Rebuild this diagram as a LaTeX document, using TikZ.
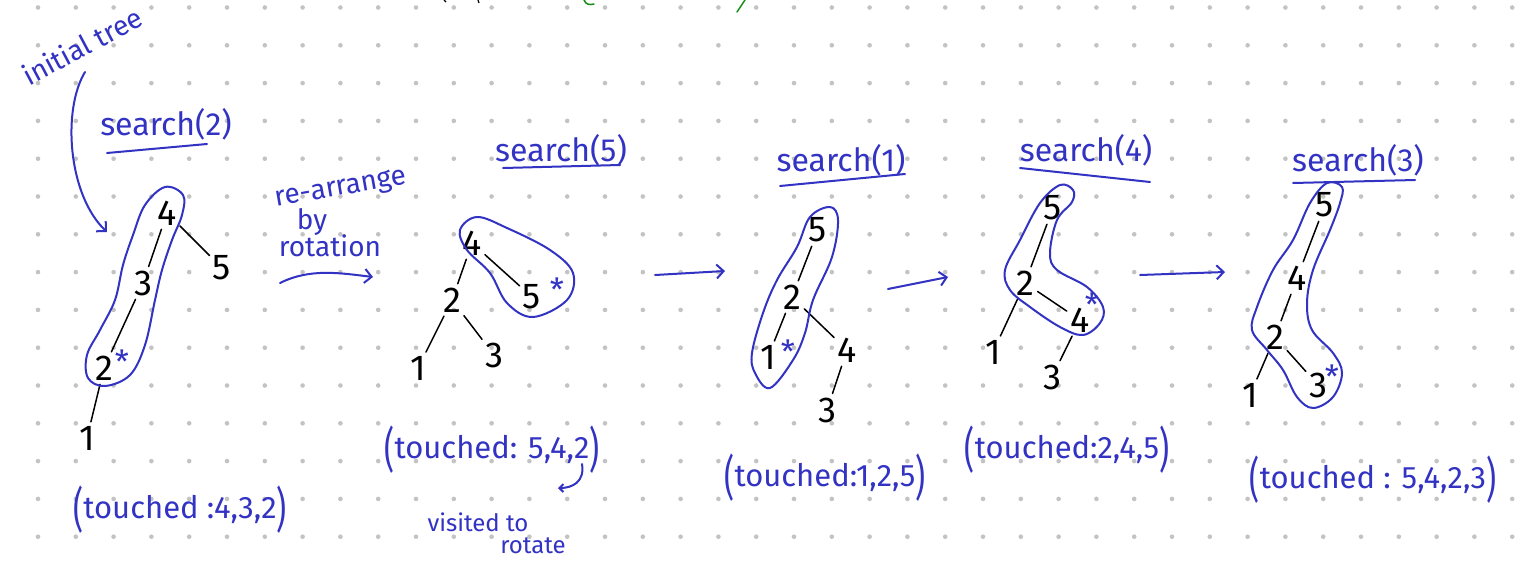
\documentclass[tikz,border=0pt]{standalone}
\usepackage{fontspec}
\setmainfont{Fira Sans}
\usetikzlibrary{arrows.meta}
\definecolor{pen}{RGB}{50,50,195}
\definecolor{dotc}{RGB}{195,195,195}
\definecolor{grn}{RGB}{20,140,20}
\newcommand{\lpar}{\raisebox{-0.28em}{\scalebox{1}[1.55]{(}}}
\newcommand{\rpar}{\raisebox{-0.28em}{\scalebox{1}[1.55]{)}}}
\begin{document}
\begin{tikzpicture}[x=1pt,y=-1pt,
  dig/.style={font=\fontsize{36}{36}\selectfont, inner sep=1pt, text=black},
  tedge/.style={line width=1.5pt, draw=black, shorten <=3pt, shorten >=3pt, line cap=round},
  lbl/.style={text=pen, font=\fontsize{28}{28}\selectfont, inner sep=0pt},
  qlbl/.style={text=pen, font=\fontsize{32}{32}\selectfont, inner sep=0pt},
  tlbl/.style={text=pen, font=\fontsize{31}{31}\selectfont, inner sep=0pt},
  small/.style={text=pen, font=\fontsize{24}{24}\selectfont, inner sep=0pt},
  loopline/.style={draw=pen, line width=2pt, line join=round},
  uline/.style={draw=pen, line width=2pt, line cap=round},
  star/.style={text=pen, font=\fontsize{32}{32}\selectfont, inner sep=0pt},
  arr/.style={draw=pen, line width=2pt, line cap=round, -{Straight Barb[length=7pt,width=14pt,line width=2pt]}},
]
\useasboundingbox (0,0) rectangle (1536,560);
\fill[white] (0,0) rectangle (1536,560);
\foreach \i in {0,...,39}{\foreach \j in {0,...,14}{\fill[dotc] ({38+37.8*\i},{7.5+37.8*\j}) circle (2.3);}}

% top fragments
\draw[grn, line width=1.5pt, line cap=round] (584,0) .. controls (586,5) and (590,5) .. (594,4);
\draw[grn, line width=1.5pt, line cap=round] (737,12) -- (745,0);
\draw[black, line width=1.2pt] (444,0) -- (446,2);
\draw[black, line width=1.2pt] (478,0) -- (479,3);

% ---------------- panel 1
\node[lbl, rotate=28] (init) at (82,46) {initial tree};
\coordinate (ia) at (85,72);
\coordinate (ib) at (107,232);
\draw[arr] (ia) .. controls (62,110) and (68,195) .. (ib);
\node[qlbl] (q1) at (166,124) {search(2)};
\draw[uline] (107,153) -- (207,144);
\node[dig] (a4) at (167,213) {4};
\node[dig] (a3) at (143,283) {3};
\node[dig] (a2) at (104,368) {2};
\node[dig] (a5) at (222,268) {5};
\node[dig] (a1) at (87,438) {1};
\draw[tedge] (a4) -- (a3);
\draw[tedge] (a3) -- (a2);
\draw[tedge] (a4) -- (a5);
\draw[tedge] (a2) -- (a1);
\node[star] (s1) at (122,362) {*};
\draw[loopline] plot[smooth cycle, tension=0.6] coordinates {(145,205) (165,187) (183,195) (182,215) (172,240) (162,270) (155,300) (145,345) (130,375) (105,386) (88,378) (87,355) (100,330) (115,300) (123,265) (133,235)};
\node[tlbl] (t1) at (180,510) {\lpar touched :4,3,2\rpar};

% ---------------- rotation label
\node[lbl, rotate=10] (ra) at (341,190) {re-arrange};
\node[lbl] (rb) at (312,222) {by};
\node[lbl] (rc) at (330,246) {rotation};
\coordinate (rs) at (280,283);
\coordinate (re) at (373,277);
\draw[arr] (rs) .. controls (310,268) and (340,273) .. (re);

% ---------------- panel 2
\node[qlbl] (q2) at (561,150) {search(5)};
\draw[uline] (503,168) -- (620,165);
\node[dig] (b4) at (472,243) {4};
\node[dig] (b2) at (452,300) {2};
\node[dig] (b5) at (532,297) {5};
\node[dig] (b1) at (418,368) {1};
\node[dig] (b3) at (494,355) {3};
\draw[tedge] (b4) -- (b2);
\draw[tedge] (b4) -- (b5);
\draw[tedge] (b2) -- (b1);
\draw[tedge] (b2) -- (b3);
\node[star] (s2) at (557,290) {*};
\draw[loopline] plot[smooth cycle, tension=0.6] coordinates {(460,230) (477,217) (507,228) (550,250) (573,273) (567,300) (533,317) (507,303) (490,273) (467,250)};
\node[tlbl] (t2) at (492,450) {\lpar touched: 5,4,2\rpar};
\coordinate (va) at (582,464);
\coordinate (vb) at (558,488);
\draw[draw=pen, line width=2pt, line cap=round, -{Straight Barb[length=4pt,width=8pt,line width=2pt]}] (va) .. controls (585,482) and (572,488) .. (vb);
\node[small] (v1) at (478,522) {visited to};
\node[small] (v2) at (533,546) {rotate};

\coordinate (m1) at (655,275);
\coordinate (m2) at (725,271);
\draw[arr] (m1) -- (m2);

% ---------------- panel 3
\node[qlbl] (q3) at (841,160) {search(1)};
\draw[uline] (780,186) -- (905,174);
\node[dig] (c5) at (818,230) {5};
\node[dig] (c2) at (792,297) {2};
\node[dig] (c1) at (768,357) {1};
\node[dig] (c4) at (847,350) {4};
\node[dig] (c3) at (827,410) {3};
\draw[tedge] (c5) -- (c2);
\draw[tedge] (c2) -- (c1);
\draw[tedge] (c2) -- (c4);
\draw[tedge] (c4) -- (c3);
\node[star] (s3) at (788,352) {*};
\draw[loopline] plot[smooth cycle, tension=0.6] coordinates {(830,207) (838,220) (832,257) (813,300) (805,333) (793,360) (770,388) (755,373) (752,353) (763,313) (777,280) (797,247) (810,217)};
\node[tlbl] (t3) at (825,478) {\lpar touched:1,2,5\rpar};

\coordinate (m3) at (888,289);
\coordinate (m4) at (948,277);
\draw[arr] (m3) -- (m4);

% ---------------- panel 4
\node[qlbl] (q4) at (1086,150) {search(4)};
\draw[uline] (1020,168) -- (1150,182);
\node[dig] (d5) at (1053,208) {5};
\node[dig] (d2) at (1025,283) {2};
\node[dig] (d4) at (1080,320) {4};
\node[dig] (d1) at (993,352) {1};
\node[dig] (d3) at (1052,377) {3};
\draw[tedge] (d5) -- (d2);
\draw[tedge] (d2) -- (d4);
\draw[tedge] (d2) -- (d1);
\draw[tedge] (d4) -- (d3);
\node[star] (s4) at (1092,305) {*};
\draw[loopline] plot[smooth cycle, tension=0.6] coordinates {(1060,185) (1073,190) (1072,202) (1057,220) (1050,253) (1057,270) (1087,287) (1103,307) (1100,323) (1083,335) (1060,327) (1030,307) (1010,290) (1005,270) (1020,240) (1040,203)};
\node[tlbl] (t4) at (1067,450) {\lpar touched:2,4,5\rpar};

\coordinate (m5) at (1140,275);
\coordinate (m6) at (1225,272);
\draw[arr] (m5) -- (m6);

% ---------------- panel 5
\node[qlbl] (q5) at (1358,160) {search(3)};
\draw[uline] (1293,183) -- (1415,180);
\node[dig] (e5) at (1325,205) {5};
\node[dig] (e4) at (1297,278) {4};
\node[dig] (e2) at (1275,337) {2};
\node[dig] (e1) at (1250,395) {1};
\node[dig] (e3) at (1318,385) {3};
\draw[tedge] (e5) -- (e4);
\draw[tedge] (e4) -- (e2);
\draw[tedge] (e2) -- (e1);
\draw[tedge] (e2) -- (e3);
\node[star] (s5) at (1332,377) {*};
\draw[loopline] plot[smooth cycle, tension=0.6] coordinates {(1327,183) (1342,187) (1340,203) (1330,230) (1313,270) (1307,303) (1312,330) (1333,353) (1342,373) (1333,397) (1313,408) (1297,397) (1283,370) (1267,350) (1252,330) (1257,307) (1273,270) (1293,240) (1310,203)};
\node[tlbl] (t5) at (1373,480) {\lpar touched : 5,4,2,3\rpar};
\end{tikzpicture}
\end{document}
